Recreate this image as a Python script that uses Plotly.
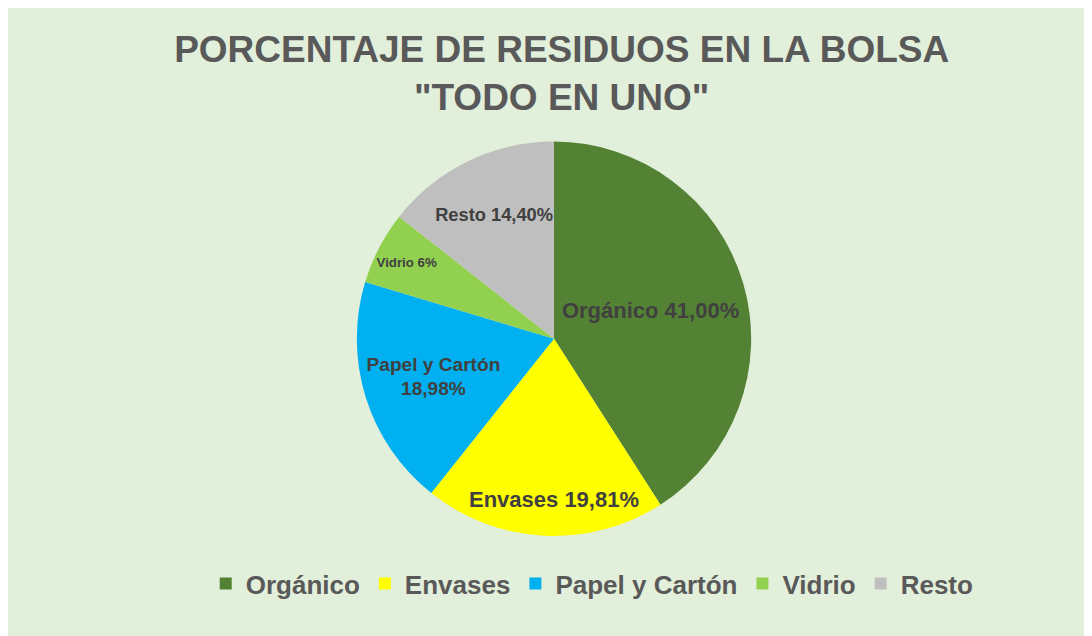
import plotly.graph_objects as go

categories = ["Orgánico", "Envases", "Papel y Cartón", "Vidrio", "Resto"]
values = [41.00, 19.81, 18.98, 6.0, 14.40]
value_labels = ["41,00%", "19,81%", "18,98%", "6%", "14,40%"]
colors = ["#548235", "#FFFF00", "#00B0F0", "#92D050", "#BFBFBF"]

texts = []
for c, v in zip(categories, value_labels):
    if c == "Papel y Cartón":
        texts.append(f"{c}<br>{v}")
    else:
        texts.append(f"{c} {v}")

FONT = "Liberation Sans, Arial, sans-serif"

fig = go.Figure(
    go.Pie(
        labels=categories,
        values=values,
        text=texts,
        textinfo="text",
        texttemplate="%{text}",
        textposition="inside",
        insidetextorientation="horizontal",
        textfont=dict(family=FONT, size=22, color="#404040", weight="bold"),
        marker=dict(colors=colors, line=dict(color="#E2EFDA", width=0)),
        sort=False,
        direction="clockwise",
        rotation=0,
        hole=0,
        domain=dict(x=[0.0, 1.0], y=[0.17, 0.79]),
        showlegend=True,
    )
)

fig.update_layout(
    width=1092,
    height=636,
    paper_bgcolor="#E2EFDA",
    plot_bgcolor="#E2EFDA",
    margin=dict(l=0, r=0, t=0, b=0),
    title=dict(
        text="PORCENTAJE DE RESIDUOS EN LA BOLSA<br>\"TODO EN UNO\"",
        x=0.507,
        xanchor="center",
        y=0.915,
        yanchor="top",
        font=dict(family=FONT, size=37, color="#595959", weight="bold"),
    ),
    legend=dict(
        orientation="h",
        x=0.535,
        xanchor="center",
        y=0.058,
        yanchor="bottom",
        font=dict(family=FONT, size=26, color="#595959", weight="bold"),
        itemsizing="constant",
        bgcolor="rgba(0,0,0,0)",
    ),
)

fig.write_html("out.html")
